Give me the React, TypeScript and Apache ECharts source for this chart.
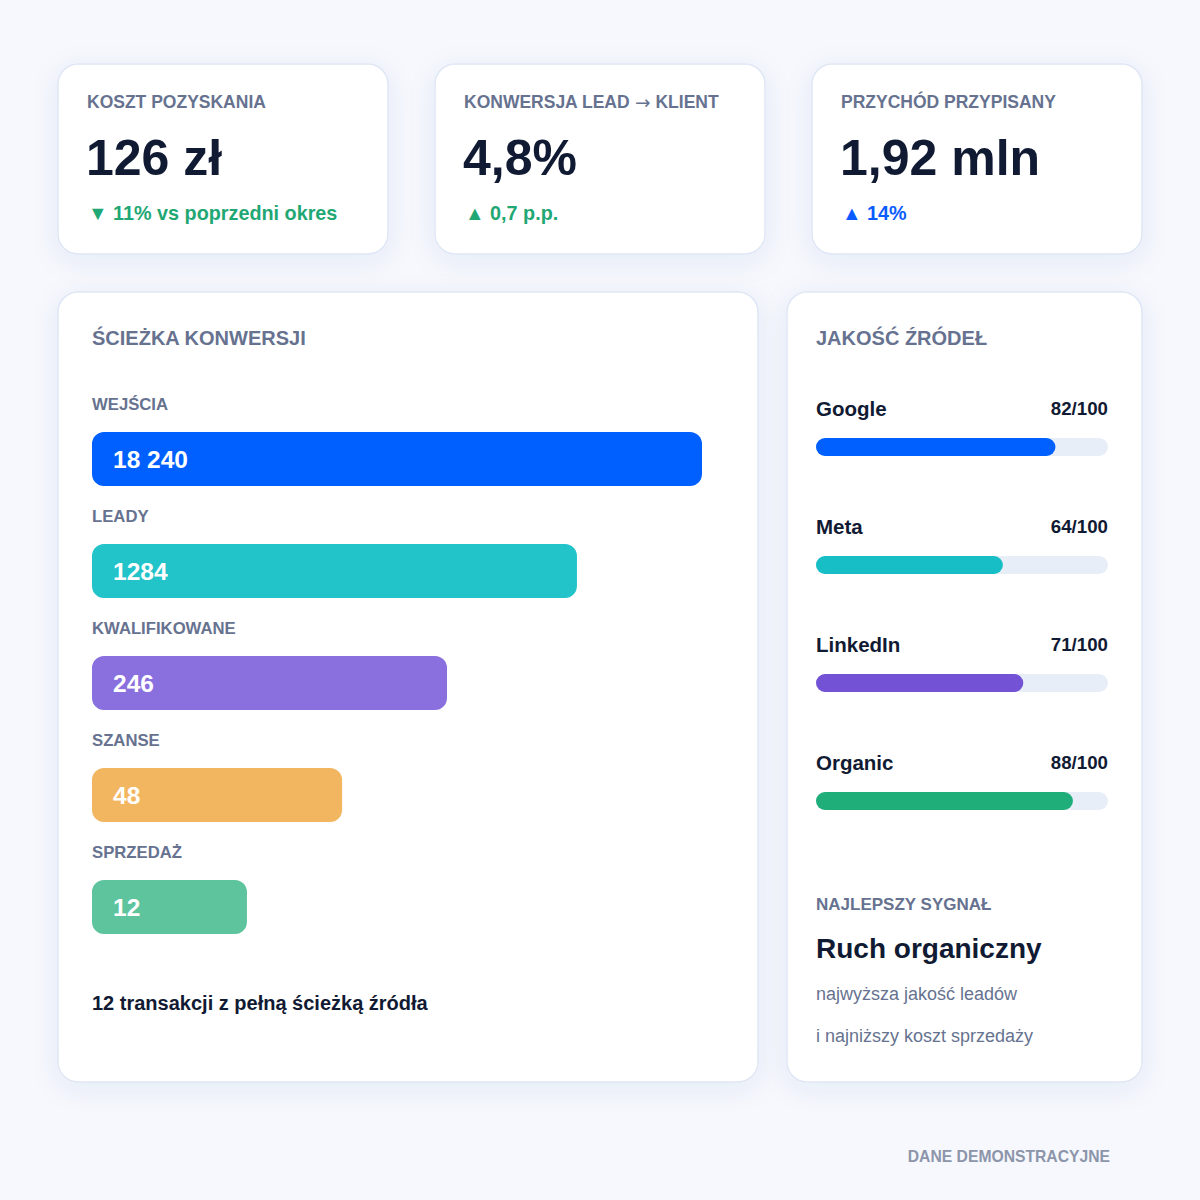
import { useEffect, useRef } from "react";
import * as echarts from "echarts";

// karty KPI
const kpiLabels = ["KOSZT POZYSKANIA", "KONWERSJA LEAD → KLIENT", "PRZYCHÓD PRZYPISANY"];
const kpiValues = ["126 zł", "4,8%", "1,92 mln"];
const kpiDeltas = ["▼ 11% vs poprzedni okres", "▲ 0,7 p.p.", "▲ 14%"];

// ścieżka konwersji
const stages = ["WEJŚCIA", "LEADY", "KWALIFIKOWANE", "SZANSE", "SPRZEDAŻ"];
const stageCounts = [18240, 1284, 246, 48, 12];
// długość paska jako % najdłuższego (skala nieliniowa)
const stageBarShare = [100, 79.5, 58.2, 41, 25.4];

// jakość źródeł
const sources = ["Google", "Meta", "LinkedIn", "Organic"];
const sourceScores = [82, 64, 71, 88];

const FONT = '"Liberation Sans", Arial, Helvetica, sans-serif';
const DARK = "#111a33";
const GRAY = "#66728f";
const funnelColors = ["#005fff", "#22c3c9", "#8a70de", "#f2b661", "#5ec49d"];
const sourceColors = ["#005fff", "#17bec5", "#7452d6", "#1fae7a"];
const deltaColors = ["#1fa774", "#1fa774", "#0a5cff"];

// układ siatek
const FUNNEL = { left: 92, top: 403, width: 610, band: 112 };
const QUALITY = { left: 816, top: 388, width: 292, band: 118 };

const fmtCount = (n: number) =>
  n >= 10000 ? String(n).replace(/\B(?=(\d{3})+(?!\d))/g, " ") : String(n);

const card = (x: number, y: number, w: number, h: number) => ({
  type: "rect",
  z: 0,
  shape: { x, y, width: w, height: h, r: 20 },
  style: {
    fill: "#ffffff",
    stroke: "#dfe6f5",
    lineWidth: 1.5,
    shadowBlur: 28,
    shadowOffsetY: 6,
    shadowColor: "rgba(40,70,160,0.07)"
  }
});

const text = (x: number, y: number, t: string, size: number, color: string, weight = "bold", align = "left") => {
  // strzałkę rysujemy cieńszym krojem, jak w oryginale
  const hasArrow = t.includes("→");
  return {
    type: "text",
    z: 10,
    x,
    y,
    style: {
      text: hasArrow ? t.replace("→", "{a|→}") : t,
      fill: color,
      fontSize: size,
      fontWeight: weight,
      fontFamily: FONT,
      textAlign: align,
      align,
      textVerticalAlign: "middle",
      verticalAlign: "middle",
      rich: hasArrow
        ? { a: { fontFamily: '"DejaVu Sans", sans-serif', fontSize: size + 1, fontWeight: "normal", fill: color } }
        : undefined
    }
  };
};

function App() {
  const chartRef = useRef<HTMLDivElement>(null);

  useEffect(() => {
    const chart = echarts.init(chartRef.current, null, { renderer: "svg" });

    const cardXs = [58, 435, 812];
    const graphics: any[] = [];
    cardXs.forEach((x, i) => {
      graphics.push(card(x, 64, 330, 190));
      graphics.push(text(x + 29, 102, kpiLabels[i], 17.5, GRAY));
      graphics.push(text(x + 28, 158, kpiValues[i], 50, DARK));
      graphics.push(text(x + 30, 213, kpiDeltas[i], 19.8, deltaColors[i]));
    });
    graphics.push(card(58, 292, 700, 790));
    graphics.push(card(787, 292, 355, 790));
    graphics.push(text(92, 338, "ŚCIEŻKA KONWERSJI", 20, GRAY));
    graphics.push(text(92, 1003, "12 transakcji z pełną ścieżką źródła", 20, DARK));
    graphics.push(text(816, 338, "JAKOŚĆ ŹRÓDEŁ", 20, GRAY));
    graphics.push(text(816, 904, "NAJLEPSZY SYGNAŁ", 17, GRAY));
    graphics.push(text(816, 948, "Ruch organiczny", 28, DARK));
    graphics.push(text(816, 994, "najwyższa jakość leadów", 18, GRAY, "normal"));
    graphics.push(text(816, 1036, "i najniższy koszt sprzedaży", 18, GRAY, "normal"));
    graphics.push(text(1110, 1156, "DANE DEMONSTRACYJNE", 15.7, "#8c95aa", "bold", "right"));

    // podpisy etapów nad paskami
    stages.forEach((s, i) => {
      const cy = FUNNEL.top + FUNNEL.band * (i + 0.5);
      graphics.push(text(FUNNEL.left, cy - 55, s, 16.7, GRAY));
    });
    // nazwy źródeł i oceny nad paskami
    sources.forEach((s, i) => {
      const cy = QUALITY.top + QUALITY.band * (i + 0.5);
      graphics.push(text(QUALITY.left, cy - 39, s, 20.5, DARK));
      graphics.push(text(QUALITY.left + QUALITY.width, cy - 39, `${sourceScores[i]}/100`, 18.7, DARK, "bold", "right"));
    });

    chart.setOption({
      animation: false,
      backgroundColor: "#f6f8fd",
      graphic: graphics,
      grid: [
        { left: FUNNEL.left, top: FUNNEL.top, width: FUNNEL.width, height: FUNNEL.band * stages.length },
        { left: QUALITY.left, top: QUALITY.top, width: QUALITY.width, height: QUALITY.band * sources.length }
      ],
      xAxis: [
        { type: "value", gridIndex: 0, min: 0, max: 100, show: false },
        { type: "value", gridIndex: 1, min: 0, max: 100, show: false }
      ],
      yAxis: [
        { type: "category", gridIndex: 0, inverse: true, data: stages, show: false },
        { type: "category", gridIndex: 1, inverse: true, data: sources, show: false }
      ],
      series: [
        {
          type: "bar",
          xAxisIndex: 0,
          yAxisIndex: 0,
          barWidth: 54,
          data: stageBarShare.map((v, i) => ({ value: v, itemStyle: { color: funnelColors[i] } })),
          itemStyle: { borderRadius: 12 },
          label: {
            show: true,
            position: "insideLeft",
            distance: 21,
            formatter: (p: any) => fmtCount(stageCounts[p.dataIndex]),
            color: "#ffffff",
            fontSize: 24.5,
            fontWeight: "bold",
            fontFamily: FONT
          }
        },
        {
          type: "bar",
          xAxisIndex: 1,
          yAxisIndex: 1,
          barWidth: 18,
          data: sourceScores.map((v, i) => ({ value: v, itemStyle: { color: sourceColors[i] } })),
          itemStyle: { borderRadius: 9 },
          showBackground: true,
          backgroundStyle: { color: "#e8eef8", borderRadius: 9 }
        }
      ]
    });

    return () => {
      chart.dispose();
    };
  }, []);

  return (
    <div
      ref={chartRef}
      style={{ position: "absolute", left: 0, top: 0, width: "1200px", height: "1200px" }}
    ></div>
  );
}

export default App;
